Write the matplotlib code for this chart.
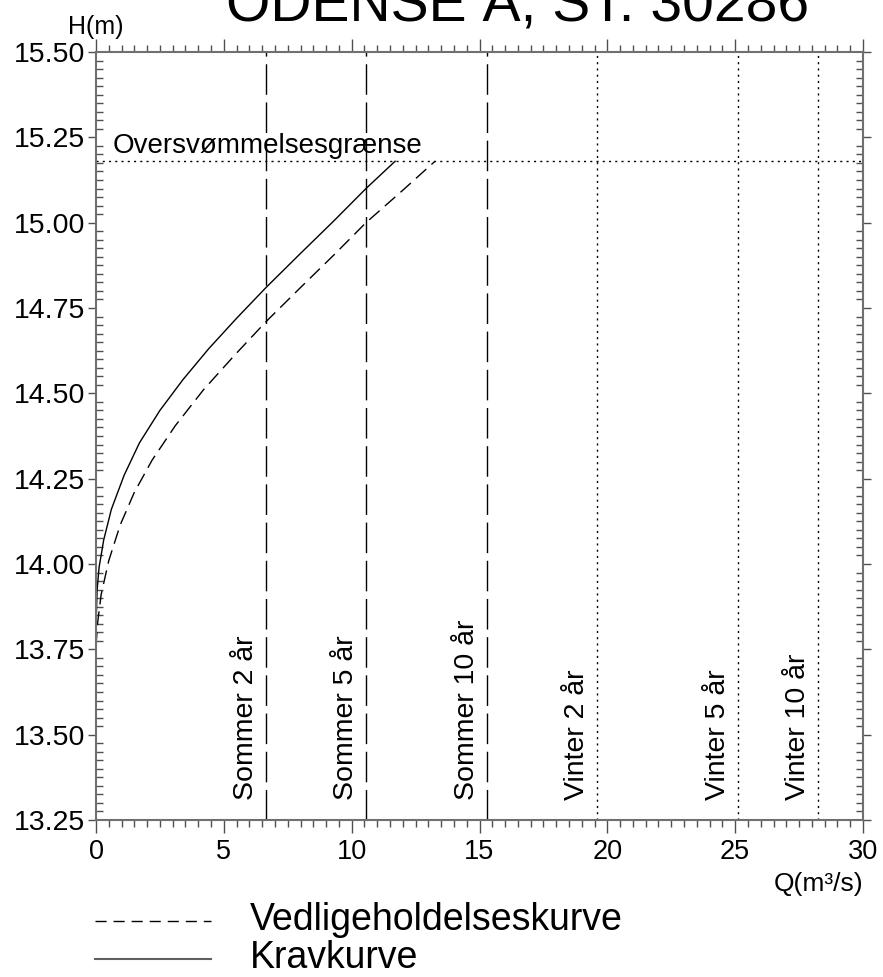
import matplotlib
matplotlib.use("Agg")
import matplotlib.pyplot as plt
from matplotlib.lines import Line2D
from matplotlib.ticker import MultipleLocator, FormatStrFormatter
import matplotlib.transforms as mtransforms

plt.rcParams['font.family'] = ['Liberation Sans', 'DejaVu Sans']

# Kravkurve (solid)
krav_q = [0, 0.015, 0.04, 0.12, 0.3, 0.6, 1.1, 1.7, 2.5, 3.4, 4.4, 5.5, 6.65, 8.0, 9.3, 10.56, 11.7]
krav_h = [13.76, 13.85, 13.92, 13.99, 14.07, 14.16, 14.26, 14.355, 14.45, 14.54, 14.63, 14.72,
          14.81, 14.91, 15.005, 15.10, 15.18]

# Vedligeholdelseskurve (dashed)
vedl_q = [0, 0.06, 0.2, 0.5, 0.95, 1.5, 2.2, 3.1, 4.2, 5.4, 6.65, 8.0, 9.3, 10.56, 12.0, 13.26]
vedl_h = [13.76, 13.825, 13.91, 14.01, 14.115, 14.21, 14.305, 14.405, 14.51, 14.61, 14.71,
          14.81, 14.905, 15.00, 15.095, 15.18]

flood_level = 15.18

sommer_q = [6.65, 10.56, 15.29]
sommer_labels = ["Sommer 2 år", "Sommer 5 år", "Sommer 10 år"]
vinter_q = [19.6, 25.1, 28.24]
vinter_labels = ["Vinter 2 år", "Vinter 5 år", "Vinter 10 år"]

fig = plt.figure(figsize=(8.83, 9.77), dpi=100)
ax = fig.add_axes([96/883, 1-820/977, (863-96)/883, (820-52)/977])

ax.plot(krav_q, krav_h, color='black', lw=1.0)
ax.plot(vedl_q, vedl_h, color='black', lw=1.0, dashes=(10, 5))

ax.axhline(flood_level, color='black', lw=1.0, dashes=(1.5, 3))
ax.text(0.65, flood_level + 0.025, "Oversvømmelsesgrænse", fontsize=20, va='baseline', ha='left')

label_y = 13.31
for q, lab in zip(sommer_q, sommer_labels):
    ax.axvline(q, color='black', lw=1.0, dashes=(22, 5.5))
    tr = mtransforms.offset_copy(ax.transData, fig=fig, x=-5, y=0, units='points')
    ax.text(q, label_y, lab, rotation=90, rotation_mode='anchor', ha='left', va='bottom',
            fontsize=20.5, transform=tr)
for q, lab in zip(vinter_q, vinter_labels):
    ax.axvline(q, color='black', lw=1.0, dashes=(1.5, 3))
    tr = mtransforms.offset_copy(ax.transData, fig=fig, x=-5, y=0, units='points')
    ax.text(q, label_y, lab, rotation=90, rotation_mode='anchor', ha='left', va='bottom',
            fontsize=20.5, transform=tr)

ax.set_xlim(0, 30)
ax.set_ylim(13.25, 15.50)
ax.xaxis.set_major_locator(MultipleLocator(5))
ax.xaxis.set_minor_locator(MultipleLocator(0.5))
ax.yaxis.set_major_locator(MultipleLocator(0.25))
ax.yaxis.set_minor_locator(MultipleLocator(0.025))
ax.yaxis.set_major_formatter(FormatStrFormatter('%.2f'))

for s in ax.spines.values():
    s.set_color('#707070')
    s.set_linewidth(1.5)

ax.tick_params(axis='x', which='major', direction='out', length=9.5, width=1.0,
               color='#505050', top=True, labelsize=19.5, pad=4)
ax.tick_params(axis='x', which='minor', direction='out', length=5, width=1.0,
               color='#505050', top=True)
ax.tick_params(axis='y', which='major', direction='out', length=6, width=1.0,
               color='#505050', right=True, labelsize=20.5, pad=2)
ax.tick_params(axis='y', which='minor', direction='in', length=5, width=1.0,
               color='#505050', right=True)

ax.text(0.0, 1.0, "H(m)", transform=mtransforms.offset_copy(ax.transAxes, fig=fig, x=0, y=13, units='points'),
        ha='center', va='baseline', fontsize=18)
ax.text(1.0, 0.0, "Q(m³/s)", transform=mtransforms.offset_copy(ax.transAxes, fig=fig, x=0, y=-51, units='points'),
        ha='right', va='baseline', fontsize=19)

fig.text(518/883, 1-20/977, "ODENSE Å, ST. 30286", ha='center', va='baseline', fontsize=41)

# legend drawn by hand below the axes
fig.add_artist(Line2D([95/883, 211/883], [1-921/977]*2, color='black', lw=1.0, dashes=(8, 5)))
fig.add_artist(Line2D([95/883, 211/883], [1-959/977]*2, color='#606060', lw=1.5))
fig.text(250/883, 1-930/977, "Vedligeholdelseskurve", fontsize=27, va='baseline', ha='left')
fig.text(250/883, 1-968/977, "Kravkurve", fontsize=27, va='baseline', ha='left')

fig.savefig("out.png", dpi=100)
